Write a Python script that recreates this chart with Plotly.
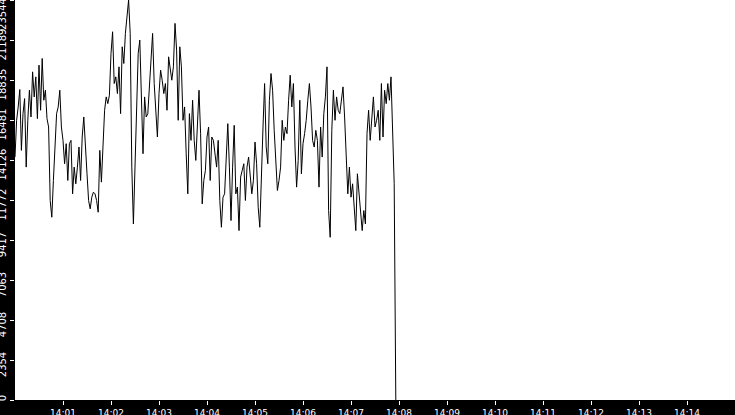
import plotly.graph_objects as go
import pandas as pd

start_time = "2024-01-01 14:00:00"
sample_step = "2s"

values = [
    14299, 16463, 17250, 18273, 14693, 16856, 17741, 13709, 16463, 18233,
    16660, 19315, 17840, 19020, 16561, 19709, 17053, 20102, 17643, 18233,
    16561, 16069, 11742, 10759, 12922, 15283, 16856, 17250, 18233, 16069,
    15283, 13906, 15086, 12922, 15086, 15283, 12135, 13709, 12725, 13709,
    14889, 12922, 15479, 16660, 15283, 13315, 11742, 11250, 11938, 12233,
    12135, 11742, 11053, 14693, 12824, 15283, 17053, 17840, 17446, 17938,
    20397, 21675,
    18627, 19020, 18036, 19610, 16856, 20790, 19807, 21577, 22560, 23544.4,
    21577, 13709, 10365, 14102, 17250, 20397, 21184, 17446, 14496, 17840,
    16660, 16856, 18627, 20003, 21577, 18627, 17053, 15479, 18036, 19413,
    18823, 18036, 18627, 17053, 20200, 19315, 18823, 19610, 22167, 20594,
    16463, 20790, 19610, 16463, 17250, 14496, 12135, 16856, 15283, 17643,
    15283, 14102, 16069, 18233, 15676, 11545, 12922, 13512, 15479, 16069,
    12922, 15479, 15283, 14299, 13709, 15283, 11742, 10168, 11938, 12135,
    14102, 16266, 13709, 10562, 13709, 16168, 12135, 12529, 9972, 13119,
    13512, 13906, 11742, 13709, 14299, 13316, 12135, 12922, 15184, 13906,
    11349, 10168, 13709, 16069, 18627, 14889, 13906, 17643, 19217, 18233,
    15873, 14299, 12332, 12922, 13709, 16463, 15283, 16069, 15676, 17643,
    19118, 17250, 18627, 14889, 12529, 14102, 17643, 13316, 15086, 15676,
    16463, 17643, 18627, 17250, 15283, 14889, 15873, 15283, 12529, 16069,
    14299, 16856, 17840, 19610, 11152, 9578, 15873, 18233, 16463, 17840,
    17053, 16856, 17643, 18430, 16660, 13709, 12135, 13709, 11938, 12726,
    11349, 9972, 13316, 12135, 10955, 9972, 11152, 10365, 15676, 17053,
    15283, 16856, 17840, 16069, 16463, 17053, 15283, 18627, 15479, 18233,
    17446, 18627, 17643, 19020, 15676, 12726, 0,
]

x_range = ["2024-01-01 14:00:00", "2024-01-01 14:15:00"]
x_ticks = ["14:01", "14:02", "14:03", "14:04", "14:05", "14:06", "14:07",
           "14:08", "14:09", "14:10", "14:11", "14:12", "14:13", "14:14"]
y_divisions = 10

times = pd.date_range(start_time, periods=len(values), freq=sample_step)
y_max = max(values)
y_tickvals = [y_max * k / y_divisions for k in range(y_divisions + 1)]
y_ticktext = [str(int(v)) for v in y_tickvals]

# keep the end labels inside the plot height, like the original renderer does
pad = "\u2007"
y_ticktext[0] = pad * 2 + y_ticktext[0]
y_ticktext[-1] = y_ticktext[-1] + pad * 3

x_tickvals = [f"2024-01-01 {t}:00" for t in x_ticks]

fig = go.Figure()
fig.add_trace(
    go.Scatter(
        x=times, y=values, mode="lines",
        line=dict(color="black", width=1),
        hoverinfo="skip",
    )
)

fig.update_layout(
    width=735, height=415,
    margin=dict(l=15, r=0, t=0, b=15, pad=0),
    paper_bgcolor="black",
    plot_bgcolor="white",
    showlegend=False,
    font=dict(family="DejaVu Sans", color="white"),
)
fig.update_xaxes(
    range=x_range,
    tickvals=x_tickvals, ticktext=x_ticks,
    ticks="outside", ticklen=4, tickcolor="white", tickwidth=1,
    tickfont=dict(size=9, color="white"),
    showgrid=False, zeroline=False, showline=False,
    automargin=False,
)
fig.update_yaxes(
    range=[0, y_max],
    tickvals=y_tickvals, ticktext=y_ticktext,
    tickangle=-90,
    ticks="outside", ticklen=4, tickcolor="white", tickwidth=1,
    tickfont=dict(size=10, color="white"),
    ticklabelshift=6, ticklabeloverflow="allow",
    showgrid=False, zeroline=False, showline=False,
    automargin=False,
)

fig.write_html(
    "out.html",
    config={"displayModeBar": False},
    post_script="document.body.style.margin = '0';",
)
